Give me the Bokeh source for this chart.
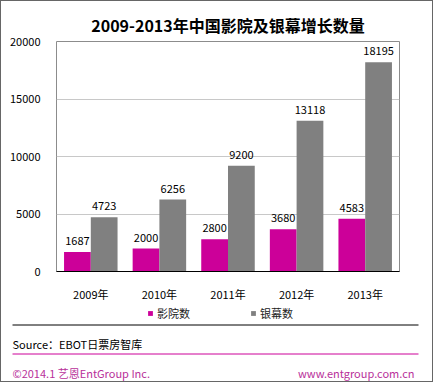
from bokeh.plotting import figure
from bokeh.models import ColumnDataSource, Legend, LegendItem, Range1d, FactorRange
from bokeh.transform import dodge
from bokeh.layouts import column
from bokeh.core.properties import value
from bokeh.embed import file_html
from bokeh.resources import INLINE

years = ["2009年", "2010年", "2011年", "2012年", "2013年"]
cinemas = [1687, 2000, 2800, 3680, 4583]
screens = [4723, 6256, 9200, 13118, 18195]
series_names = ["影院数", "银幕数"]
y_ticks = [0, 5000, 10000, 15000, 20000]
title_text = "2009-2013年中国影院及银幕增长数量"
source_text = "Source：EBOT日票房智库"
footer_left = "©2014.1 艺恩EntGroup Inc."
footer_right = "www.entgroup.com.cn"

MAGENTA = "#CC0099"
FOOT = "#B8309A"
GRAY = "#808080"
FONT = "Noto Sans CJK SC"
W = 431

src = ColumnDataSource(dict(
    year=years, cinemas=cinemas, screens=screens,
    cl=[str(v) for v in cinemas], sl=[str(v) for v in screens],
))

p = figure(width=W, height=303, x_range=FactorRange(*years),
           y_range=Range1d(0, 20000), output_backend="svg",
           toolbar_location=None, min_border_left=55, min_border_right=33,
           min_border_top=40, min_border_bottom=31)
p.title.text = title_text
p.title.text_font = FONT
p.title.text_font_size = "16px"
p.title.text_font_style = "bold"
p.title.align = "center"
p.title.offset = 6
p.title.text_color = "#000000"
p.title.standoff = 9

p.vbar(x=dodge("year", -0.195, range=p.x_range), top="cinemas", width=0.39,
       source=src, color=MAGENTA, line_color=None)
p.vbar(x=dodge("year", 0.195, range=p.x_range), top="screens", width=0.39,
       source=src, color=GRAY, line_color=None)

p.text(x=dodge("year", -0.195, range=p.x_range), y="cinemas", text="cl", source=src,
       text_align="center", text_baseline="bottom", y_offset=-7,
       text_font=value(FONT), text_font_size="11px", text_color="#000000")
p.text(x=dodge("year", 0.195, range=p.x_range), y="screens", text="sl", source=src,
       text_align="center", text_baseline="bottom", y_offset=-7,
       text_font=value(FONT), text_font_size="11px", text_color="#000000")

p.outline_line_color = "#8C8C8C"
p.outline_line_width = 1
p.xgrid.grid_line_color = None
p.ygrid.grid_line_color = "#C8C8C8"
p.yaxis.ticker = y_ticks
p.yaxis.axis_line_color = None
p.yaxis.major_tick_line_color = None
p.yaxis.minor_tick_line_color = None
p.yaxis.major_tick_out = 0
p.yaxis.major_tick_in = 0
p.yaxis.minor_tick_out = 0
p.yaxis.major_label_standoff = 16
p.yaxis.major_label_text_font = FONT
p.yaxis.major_label_text_font_size = "11px"
p.yaxis.major_label_text_color = "#000000"
p.xaxis.axis_line_color = "#000000"
p.xaxis.major_tick_line_color = None
p.xaxis.minor_tick_line_color = None
p.xaxis.major_tick_out = 0
p.xaxis.major_tick_in = 0
p.xaxis.minor_tick_out = 0
p.xaxis.major_label_standoff = 14
p.xaxis.major_label_text_font = FONT
p.xaxis.major_label_text_font_size = "11px"
p.xaxis.major_label_text_color = "#000000"
p.x_range.range_padding = 0

FH = 77
f = figure(width=W, height=FH, x_range=Range1d(0, W), y_range=Range1d(FH, 0),
           output_backend="svg", toolbar_location=None,
           min_border_left=0, min_border_right=0, min_border_top=0, min_border_bottom=0)
f.axis.visible = False
f.grid.visible = False
f.outline_line_color = None

# legend proxies (hidden renderers carrying the series colours)
l1 = f.vbar(x=[0], top=[0], width=0, color=MAGENTA, line_color=None, visible=False)
l2 = f.vbar(x=[0], top=[0], width=0, color=GRAY, line_color=None, visible=False)
legend = Legend(items=[LegendItem(label=series_names[0], renderers=[l1]),
                       LegendItem(label=series_names[1], renderers=[l2])],
                orientation="horizontal", location=(146, 60),
                glyph_width=6, glyph_height=6, label_standoff=4, spacing=60,
                padding=0, margin=0, border_line_color=None,
                background_fill_alpha=0,
                label_text_font=FONT, label_text_font_size="11px",
                label_text_color="#222222", label_height=12)
f.add_layout(legend, "center")

f.line(x=[11, 417], y=[20.5, 20.5], line_color="#000000", line_width=1)
f.line(x=[11, 417], y=[49.5, 49.5], line_color=MAGENTA, line_width=1)
f.text(x=[11], y=[39], text=[source_text], text_align="left", text_baseline="middle",
       text_font=value(FONT), text_font_size="11px", text_color="#000000")
f.text(x=[11], y=[68], text=[footer_left], text_align="left", text_baseline="middle",
       text_font=value(FONT), text_font_size="11px", text_color=FOOT)
f.text(x=[413], y=[68], text=[footer_right], text_align="right", text_baseline="middle",
       text_font=value(FONT), text_font_size="11px", text_color=FOOT)

layout = column(p, column(f), spacing=0, styles={"border": "1px solid #666666"})
open("out.html", "w").write(file_html(layout, INLINE))
